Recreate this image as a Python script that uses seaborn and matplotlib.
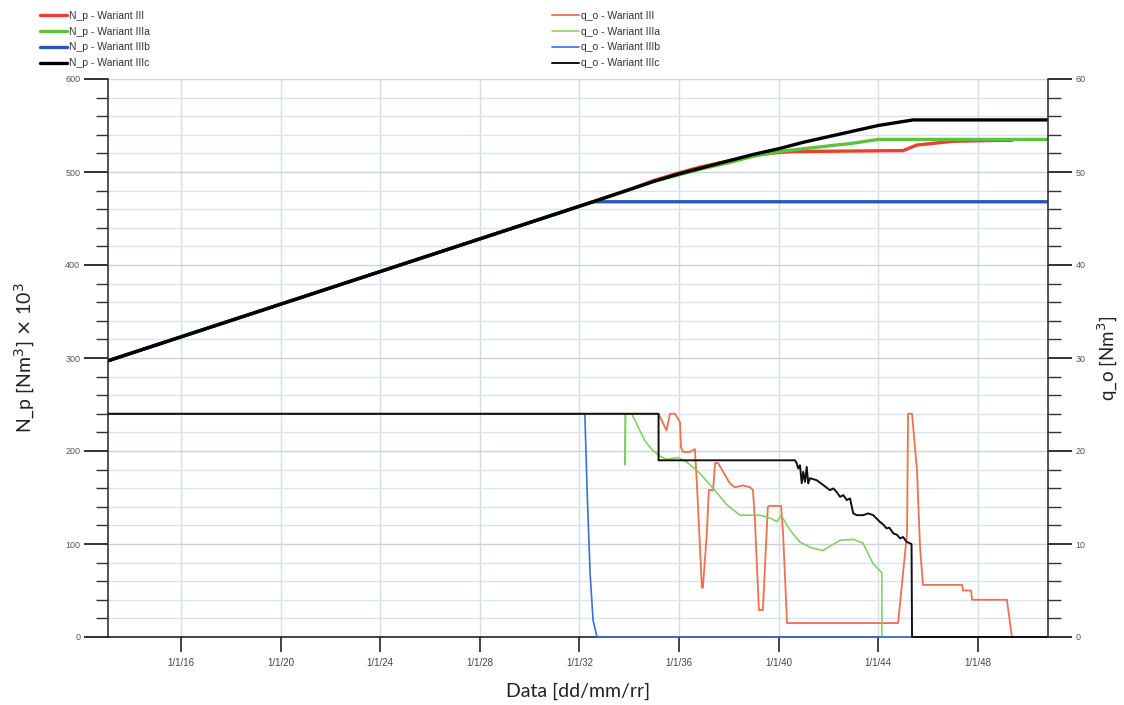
import numpy as np
import pandas as pd
import matplotlib
matplotlib.use("Agg")
import matplotlib.pyplot as plt
from matplotlib.ticker import MultipleLocator, FixedLocator, FixedFormatter
import seaborn as sns

# ---------------- data (x in fractional years) ----------------
X_MIN, X_MAX = 2013.07, 2050.82
tick_years = [2016, 2020, 2024, 2028, 2032, 2036, 2040, 2044, 2048]
tick_labels = ["1/1/16", "1/1/20", "1/1/24", "1/1/28", "1/1/32",
               "1/1/36", "1/1/40", "1/1/44", "1/1/48"]

# N_p  (left axis, x10^3 Nm3)
np_c_x = [2013.07, 2032.55, 2034.0, 2035.0, 2036.0, 2037.0, 2038.0, 2039.0,
          2040.0, 2041.0, 2042.0, 2043.0, 2044.0, 2045.4, 2050.82]
np_c_y = [297, 468, 481, 490, 498, 505, 512, 519, 525, 532, 538, 544, 550, 556, 556]

np_b_x = [2013.07, 2032.55, 2050.82]
np_b_y = [297, 468, 468]

np_a_x = [2013.07, 2032.55, 2034.0, 2035.0, 2036.0, 2037.0, 2038.0, 2039.0,
          2040.0, 2041.0, 2042.0, 2043.0, 2044.0, 2050.82]
np_a_y = [297, 468, 481, 490, 497, 504, 510, 517, 522, 525, 528, 531, 535, 535]

np_0_x = [2013.07, 2032.55, 2034.0, 2035.0, 2036.0, 2036.8, 2038.0, 2039.0,
          2040.0, 2040.6, 2045.0, 2045.56, 2047.0, 2048.77, 2049.37]
np_0_y = [297, 468, 481, 491, 499, 505, 512, 518, 521, 522, 523, 529, 533, 534, 534]

# q_o (right axis, Nm3)
qo_0_x = [2013.07, 2035.18, 2035.50, 2035.64, 2035.84, 2036.04, 2036.08, 2036.16,
          2036.44, 2036.64, 2036.72, 2036.92, 2036.96, 2037.12, 2037.20, 2037.37,
          2037.45, 2037.57, 2038.05, 2038.25, 2038.57, 2038.85, 2038.97, 2039.05,
          2039.21, 2039.37, 2039.57, 2039.65, 2040.10, 2040.18, 2040.34, 2044.80,
          2045.16, 2045.20, 2045.36, 2045.56, 2045.68, 2045.80, 2047.37, 2047.41,
          2047.73, 2047.77, 2049.17, 2049.37]
qo_0_y = [24, 24, 22.2, 24, 24, 23.1, 20.4, 19.9,
          19.9, 20.2, 16.5, 5.3, 5.3, 11.2, 15.8, 15.8,
          18.7, 18.7, 16.5, 16.1, 16.3, 16.1, 15.8, 12.6,
          2.9, 2.9, 14.0, 14.1, 14.1, 11.2, 1.5, 1.5,
          11.2, 24, 24, 17.9, 9.7, 5.6, 5.6, 5.0,
          5.0, 4.0, 4.0, 0.0]

qo_a_x = [2013.07, 2033.84, 2033.84, 2033.86, 2034.10, 2034.25, 2034.43, 2034.65,
          2034.94, 2035.20, 2035.50, 2035.96, 2036.32, 2036.84, 2037.37, 2037.93,
          2038.45, 2038.85, 2039.25, 2039.65, 2039.94, 2040.10, 2040.46, 2040.86,
          2041.30, 2041.78, 2042.10, 2042.47, 2043.00, 2043.39, 2043.79, 2044.15,
          2044.15, 2050.82]
qo_a_y = [24, 24, 18.5, 24, 24, 23.2, 22.2, 21.0,
          20.1, 19.5, 19.1, 19.3, 18.8, 17.6, 16.0, 14.2,
          13.1, 13.1, 13.1, 12.8, 12.4, 13.1, 11.5, 10.2,
          9.6, 9.3, 9.8, 10.4, 10.5, 10.1, 7.9, 6.9,
          0.0, 0.0]

qo_b_x = [2013.07, 2032.22, 2032.31, 2032.43, 2032.55, 2032.71, 2050.82]
qo_b_y = [24, 24, 15.8, 6.9, 1.8, 0.0, 0.0]

qo_c_x = [2013.07, 2035.18, 2035.18, 2040.66, 2040.73, 2040.79, 2040.86, 2040.93,
          2040.99, 2041.06, 2041.13, 2041.19, 2041.26, 2041.53, 2041.80, 2042.06,
          2042.20, 2042.33, 2042.47, 2042.60, 2042.74, 2042.87, 2042.94, 2043.00,
          2043.14, 2043.40, 2043.60, 2043.80, 2044.07, 2044.20, 2044.34, 2044.45,
          2044.61, 2044.75, 2044.88, 2045.00, 2045.14, 2045.34, 2045.36, 2050.82]
qo_c_y = [24, 24, 19.0, 19.0, 18.66, 18.12, 18.47, 16.54,
          17.76, 16.68, 18.29, 16.51, 17.08, 16.86, 16.33, 15.79,
          15.97, 15.61, 15.07, 15.25, 14.72, 14.90, 14.00, 13.29,
          13.10, 13.10, 13.29, 13.10, 12.38, 12.10, 11.68, 11.75,
          11.14, 11.00, 10.60, 10.75, 10.24, 9.99, 0.0, 0.0]

np_labels = ["N_p - Wariant III", "N_p - Wariant IIIa", "N_p - Wariant IIIb", "N_p - Wariant IIIc"]
qo_labels = ["q_o - Wariant III", "q_o - Wariant IIIa", "q_o - Wariant IIIb", "q_o - Wariant IIIc"]

np_colors = ["#e8412f", "#5cc43c", "#2a55b8", "#000000"]
qo_colors = ["#f0704e", "#7ccf5a", "#3a70dc", "#111111"]

# ---------------- style ----------------
sns.set_theme(style="white")
plt.rcParams["font.family"] = ["Liberation Sans", "DejaVu Sans"]

fig = plt.figure(figsize=(11.24, 7.05), dpi=100)
fig.patch.set_facecolor("white")
ax = fig.add_axes([108 / 1124, 68 / 705, 940 / 1124, 558 / 705])
ax2 = ax.twinx()

np_sets = [(np_0_x, np_0_y), (np_a_x, np_a_y), (np_b_x, np_b_y), (np_c_x, np_c_y)]
qo_sets = [(qo_0_x, qo_0_y), (qo_a_x, qo_a_y), (qo_b_x, qo_b_y), (qo_c_x, qo_c_y)]

np_handles = []
for (xs, ys), col, lab in zip(np_sets, np_colors, np_labels):
    df = pd.DataFrame({"x": xs, "y": ys})
    sns.lineplot(data=df, x="x", y="y", ax=ax, color=col, linewidth=2.4,
                 estimator=None, sort=False, legend=False)
    np_handles.append(plt.Line2D([], [], color=col, linewidth=2.4, label=lab))

qo_widths = [1.3, 1.1, 1.2, 1.4]
qo_handles = []
for (xs, ys), col, lab, lw in zip(qo_sets, qo_colors, qo_labels, qo_widths):
    df = pd.DataFrame({"x": xs, "y": ys})
    sns.lineplot(data=df, x="x", y="y", ax=ax2, color=col, linewidth=lw,
                 estimator=None, sort=False, legend=False)
    qo_handles.append(plt.Line2D([], [], color=col, linewidth=lw, label=lab))
for ln in ax2.get_lines():
    ln.set_clip_on(False)

# ---------------- axes ----------------
ax.set_xlim(X_MIN, X_MAX)
ax.set_ylim(0, 600)
ax2.set_ylim(0, 60)

ax.xaxis.set_major_locator(FixedLocator(tick_years))
ax.xaxis.set_major_formatter(FixedFormatter(tick_labels))
ax.yaxis.set_major_locator(MultipleLocator(100))
ax.yaxis.set_minor_locator(MultipleLocator(20))
ax2.yaxis.set_major_locator(MultipleLocator(10))
ax2.yaxis.set_minor_locator(MultipleLocator(2))

ax.tick_params(axis="x", which="major", direction="out", length=11, width=1.2,
               color="#222222", labelsize=7, labelcolor="#444444", pad=4, bottom=True)
ax.tick_params(axis="y", which="major", direction="out", length=17, width=1.3,
               color="#222222", labelsize=6.5, labelcolor="#555555", pad=3, left=True)
ax.tick_params(axis="y", which="minor", direction="out", length=9, width=1.0,
               color="#333333", left=True)
ax2.tick_params(axis="y", which="major", direction="out", length=17, width=1.3,
                color="#222222", labelsize=6.5, labelcolor="#555555", pad=3, right=True)
ax2.tick_params(axis="y", which="minor", direction="out", length=9, width=1.0,
                color="#333333", right=True)

# grid on the lower (N_p) axes
ax.set_axisbelow(True)
ax2.grid(False)
ax.grid(False)
ax.yaxis.grid(True, which="minor", color="#d9e6f2", linewidth=1.0)
ax.yaxis.grid(True, which="major", color="#cbd2d9", linewidth=1.0)
ax.xaxis.grid(True, which="major", color="#d2dde8", linewidth=1.0)

for a in (ax, ax2):
    a.spines["top"].set_visible(False)
    a.spines["left"].set_color("#333333")
    a.spines["right"].set_color("#333333")
    a.spines["bottom"].set_color("#222222")
    a.spines["left"].set_linewidth(1.2)
    a.spines["right"].set_linewidth(1.2)
    a.spines["bottom"].set_linewidth(1.2)
ax.spines["right"].set_visible(False)
ax2.spines["left"].set_visible(False)
ax2.spines["bottom"].set_visible(False)

label_font = ["Lato", "DejaVu Sans"]
ax.set_xlabel("Data [dd/mm/rr]", fontsize=14, family=label_font, color="#222222", labelpad=11)
ax.set_ylabel(r"N_p [Nm$^3$] $\times$ 10$^3$", fontsize=14, family=label_font,
              color="#222222", labelpad=20)
ax2.set_ylabel(r"q_o [Nm$^3$]", fontsize=13.5, family=label_font, color="#222222", labelpad=7)

# ---------------- legends ----------------
leg_kw = dict(frameon=False, fontsize=7.5, handlelength=2.6, handletextpad=0.2,
              labelspacing=0.55, borderaxespad=0.0, borderpad=0.0)
leg1 = fig.legend(handles=np_handles, loc="upper left",
                  bbox_to_anchor=(40 / 1124, 1 - 11 / 705), **leg_kw)
leg2 = fig.legend(handles=qo_handles, loc="upper left",
                  bbox_to_anchor=(552 / 1124, 1 - 11 / 705), **leg_kw)
for t in leg1.get_texts() + leg2.get_texts():
    t.set_color("#333333")

fig.savefig("out.png", dpi=100, facecolor="white")
